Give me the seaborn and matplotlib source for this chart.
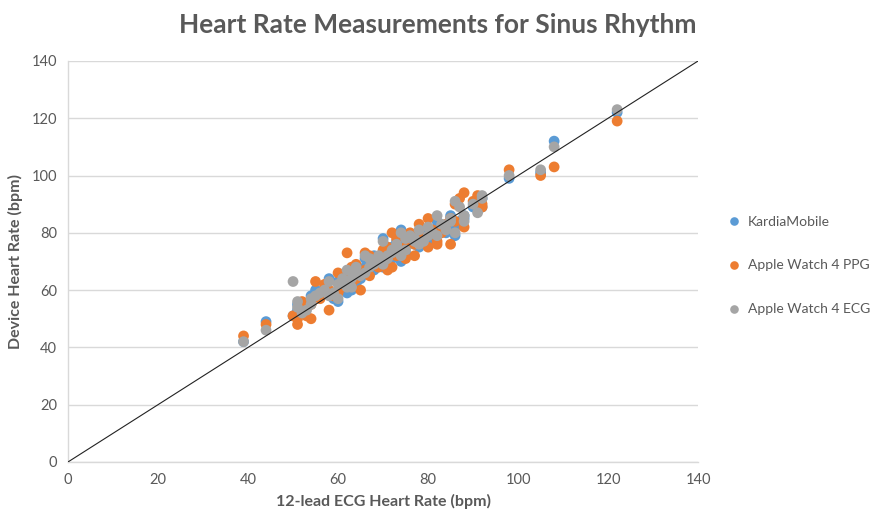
import numpy as np
import pandas as pd
import seaborn as sns
import matplotlib.pyplot as plt

sns.set_theme(style="white")
plt.rcParams['font.family'] = ['Lato', 'DejaVu Sans']

# 12-lead ECG reference heart rate (bpm)
ecg = [39, 44, 50, 51, 51, 52, 53, 54, 54, 55, 56, 57, 58, 58, 59, 60, 60, 61,
       62, 62, 63, 63, 64, 64, 65, 66, 66, 67, 67, 68, 68, 69, 70, 70, 71, 71,
       72, 72, 73, 73, 74, 74, 75, 75, 76, 77, 77, 78, 78, 79, 80, 80, 81, 82,
       82, 83, 84, 85, 85, 86, 86, 87, 88, 88, 90, 91, 92, 92, 98, 105, 108, 122]
# device readings for the same recordings
kardia = [42, 49, 51, 55, 53, 52, 54, 58, 56, 60, 58, 61, 64, 59, 57, 56, 63, 62,
          59, 66, 65, 60, 62, 67, 64, 68, 71, 66, 70, 72, 67, 70, 78, 68, 73, 70,
          75, 71, 74, 77, 81, 70, 76, 73, 79, 76, 78, 75, 80, 78, 80, 77, 79, 84,
          81, 82, 80, 83, 86, 82, 79, 84, 86, 85, 89, 88, 89, 92, 99, 101, 112, 122]
ppg = [44, 48, 51, 48, 50, 56, 51, 50, 55, 63, 57, 62, 53, 60, 58, 59, 66, 61,
       73, 65, 68, 62, 69, 64, 60, 67, 73, 65, 72, 69, 71, 68, 74, 70, 75, 67,
       80, 68, 72, 78, 79, 73, 71, 75, 80, 72, 76, 83, 79, 78, 85, 75, 81, 76,
       77, 80, 83, 76, 85, 90, 84, 92, 94, 82, 91, 93, 89, 90, 102, 100, 103, 119]
aw_ecg = [42, 46, 63, 56, 54, 52, 53, 57, 55, 58, 59, 60, 63, 58, 59, 57, 62, 64,
          61, 67, 64, 61, 66, 68, 65, 66, 72, 68, 71, 70, 69, 72, 77, 69, 72, 71,
          74, 73, 76, 75, 80, 72, 78, 74, 79, 77, 78, 76, 81, 77, 82, 79, 80, 86,
          79, 83, 81, 85, 84, 91, 80, 89, 86, 84, 90, 87, 93, 92, 100, 102, 110, 123]

series = ['KardiaMobile', 'Apple Watch 4 PPG', 'Apple Watch 4 ECG']
colors = ['#5B9BD5', '#ED7D31', '#A5A5A5']

df = pd.DataFrame({'ecg': ecg, series[0]: kardia, series[1]: ppg, series[2]: aw_ecg})
long = df.melt(id_vars='ecg', var_name='device', value_name='hr')

fig = plt.figure(figsize=(8.76, 5.12), dpi=100)
ax = fig.add_axes([0.0776, 0.0977, 0.7194, 0.7833])

sns.scatterplot(data=long, x='ecg', y='hr', hue='device', hue_order=series,
                palette=colors, s=60, linewidth=0, alpha=1, ax=ax, zorder=3)

ax.plot([0, 140], [0, 140], color='#222222', lw=0.8, zorder=4)

ax.set_xlim(0, 140)
ax.set_ylim(0, 140)
ax.set_xticks(range(0, 141, 20))
ax.set_yticks(range(0, 141, 20))
ax.yaxis.grid(True, color='#D9D9D9', lw=1)
ax.xaxis.grid(False)
ax.tick_params(axis='both', length=0, labelsize=10.5, colors='#595959', pad=8)
for side in ['top', 'right']:
    ax.spines[side].set_visible(False)
for side in ['left', 'bottom']:
    ax.spines[side].set_color('#D9D9D9')
    ax.spines[side].set_linewidth(1)

ax.set_xlabel('12-lead ECG Heart Rate (bpm)', fontsize=11.5, fontweight='bold',
              color='#595959', labelpad=5)
ax.set_ylabel('Device Heart Rate (bpm)', fontsize=11.5, fontweight='bold',
              color='#595959', labelpad=6)
fig.suptitle('Heart Rate Measurements for Sinus Rhythm', x=0.5, y=0.975,
             fontsize=19, fontweight='bold', color='#595959')

handles, labels = ax.get_legend_handles_labels()
ax.legend(handles, labels, loc='center left', bbox_to_anchor=(1.015, 0.49),
          frameon=False, fontsize=10, labelcolor='#595959', handletextpad=0.0,
          labelspacing=2.3, markerscale=0.8)

fig.savefig('out.png', dpi=100)
